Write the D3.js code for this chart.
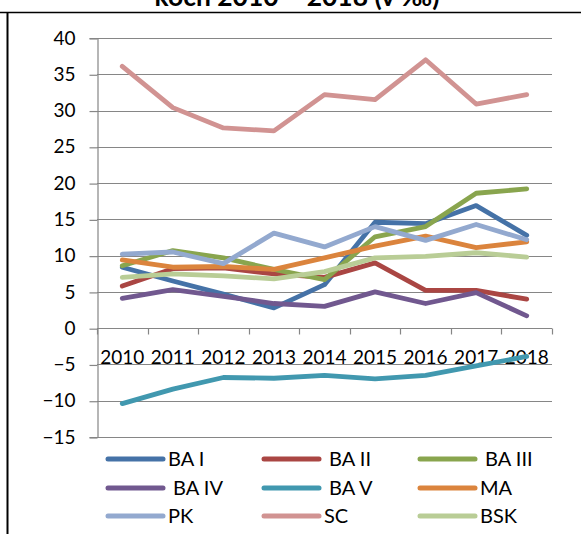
<!DOCTYPE html>
<html>
<head>
<meta charset="utf-8">
<script src="https://cdn.jsdelivr.net/npm/d3@7"></script>
<style>
  html, body { margin: 0; padding: 0; background: #fff; }
  svg { display: block; font-family: Lato, "Open Sans", sans-serif; }
  text { white-space: pre; }
</style>
</head>
<body>
<svg id="chart" width="581" height="534"></svg>
<script>
// ---- data ----
const titleText = "koch 2010 – 2018 (v ‰)";
const years = ["2010", "2011", "2012", "2013", "2014", "2015", "2016", "2017", "2018"];
const yTicks = [-15, -10, -5, 0, 5, 10, 15, 20, 25, 30, 35, 40];
const seriesNames = ["BA I", " BA II", " BA III", " BA IV", " BA V", "MA", "PK", "SC", "BSK"];
const seriesColors = ["#4572A7", "#AA4643", "#89A54E", "#71588F", "#4198AF", "#DB843D", "#93A9CF", "#D19392", "#B9CD96"];
const baI   = [8.4, 6.5, 4.7, 2.8, 6.0, 14.6, 14.4, 16.9, 12.8];
const baII  = [5.8, 8.2, 8.3, 7.5, 7.0, 9.0, 5.2, 5.2, 4.0];
const baIII = [8.6, 10.7, 9.7, 8.1, 6.7, 12.6, 14.0, 18.6, 19.2];
const baIV  = [4.1, 5.3, 4.4, 3.4, 3.0, 5.0, 3.4, 4.9, 1.7];
const baV   = [-10.4, -8.4, -6.8, -6.9, -6.5, -7.0, -6.5, -5.2, -3.9];
const ma    = [9.4, 8.4, 8.5, 8.1, 9.7, 11.3, 12.7, 11.1, 11.9];
const pk    = [10.2, 10.5, 8.9, 13.1, 11.2, 14.0, 12.1, 14.3, 12.2];
const sc    = [36.1, 30.4, 27.6, 27.2, 32.2, 31.5, 37.0, 30.9, 32.2];
const bsk   = [7.0, 7.5, 7.2, 6.8, 7.8, 9.7, 9.9, 10.4, 9.8];
const seriesValues = [baI, baII, baIII, baIV, baV, ma, pk, sc, bsk];

// ---- layout ----
const svg = d3.select("#chart");
const W = 581, H = 534;
const plot = { left: 97, right: 552, top: 38, bottom: 437 };
const gridColor = "#868686";

svg.append("rect").attr("width", W).attr("height", H).attr("fill", "#fff");

// frame lines
svg.append("line").attr("x1", 0).attr("x2", W).attr("y1", 12.5).attr("y2", 12.5)
  .attr("stroke", "#000").attr("stroke-width", 1.5);
svg.append("line").attr("x1", 7.5).attr("x2", 7.5).attr("y1", 12).attr("y2", H)
  .attr("stroke", "#000").attr("stroke-width", 2);

// title (its upper part lies above the page, as in the reference)
const title = svg.append("text").attr("x", 297).attr("y", 6).attr("text-anchor", "middle")
  .attr("font-weight", "bold").attr("font-size", 20).attr("fill", "#000")
  .text(titleText);
const tw = title.node().getComputedTextLength();
if (tw > 0) title.attr("font-size", 20 * 285 / tw);

const x = d3.scaleBand().domain(years).range([plot.left, plot.right]).padding(0);
const y = d3.scaleLinear().domain([-15, 40]).range([plot.bottom, plot.top]);
const cx = d => x(d) + x.bandwidth() / 2;

// gridlines
svg.append("g").selectAll("line").data(yTicks).join("line")
  .attr("x1", plot.left).attr("x2", plot.right)
  .attr("y1", d => Math.round(y(d)) + 0.5).attr("y2", d => Math.round(y(d)) + 0.5)
  .attr("stroke", gridColor).attr("stroke-width", 1.2);

// y axis
const yAxis = d3.axisLeft(y).tickValues(yTicks).tickSize(8).tickPadding(14).tickFormat(d3.format("d"));
const gy = svg.append("g").attr("transform", `translate(${plot.left + 0.5},0)`).call(yAxis);
gy.select(".domain").attr("stroke", gridColor).attr("stroke-width", 1.2);
gy.selectAll(".tick line").attr("stroke", gridColor).attr("stroke-width", 1.2)
  .attr("transform", "translate(0,0.5)");
gy.selectAll(".tick text").attr("font-size", 19).attr("fill", "#000")
  .attr("font-family", "Lato, 'Open Sans', sans-serif");

// x axis at y=0 with ticks at category boundaries
const y0 = Math.round(y(0)) + 0.5;
const boundaries = years.map(d => x(d)).concat([plot.right]);
svg.append("g").selectAll("line").data(boundaries).join("line")
  .attr("x1", d => Math.round(d) + 0.5).attr("x2", d => Math.round(d) + 0.5)
  .attr("y1", y0).attr("y2", y0 + 6)
  .attr("stroke", gridColor).attr("stroke-width", 1.2);
svg.append("g").selectAll("text").data(years).join("text")
  .attr("x", d => cx(d)).attr("y", y0 + 35)
  .attr("text-anchor", "middle").attr("font-size", 19).attr("fill", "#000")
  .text(d => d);

// lines
const line = d3.line().x((v, i) => cx(years[i])).y(v => y(v));
svg.append("g").selectAll("path").data(seriesValues).join("path")
  .attr("d", d => line(d))
  .attr("fill", "none")
  .attr("stroke", (d, i) => seriesColors[i])
  .attr("stroke-width", 4.8)
  .attr("stroke-linejoin", "round")
  .attr("stroke-linecap", "round");

// legend
const legCols = [108, 264, 420];
const legRows = [459, 488, 516];
const leg = svg.append("g").selectAll("g").data(seriesNames).join("g")
  .attr("transform", (d, i) => `translate(${legCols[i % 3]},${legRows[Math.floor(i / 3)]})`);
leg.append("line").attr("x1", 0).attr("x2", 55).attr("y1", 0).attr("y2", 0)
  .attr("stroke", (d, i) => seriesColors[i]).attr("stroke-width", 5).attr("stroke-linecap", "round");
leg.append("text").attr("x", 60).attr("y", 0).attr("dy", "0.36em")
  .attr("font-size", 20).attr("fill", "#000").text(d => d);
</script>
</body>
</html>
